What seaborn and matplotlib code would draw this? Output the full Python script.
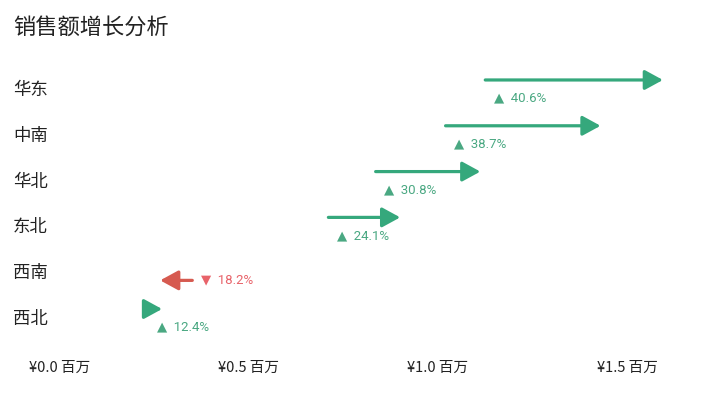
import matplotlib.pyplot as plt
import seaborn as sns

# --- Data (values in millions of yuan) ---
regions = ['华东', '中南', '华北', '东北', '西南', '西北']
sales_before = [1.125, 1.02, 0.835, 0.71, 0.35, 0.235]
sales_after = [1.595, 1.43, 1.112, 0.9, 0.265, 0.27]
growth_pct = [40.6, 38.7, 30.8, 24.1, -18.2, 12.4]
x_ticks = [0.0, 0.5, 1.0, 1.5]
x_tick_labels = ['¥0.0 百万', '¥0.5 百万', '¥1.0 百万', '¥1.5 百万']

up_color = '#35a87c'
up_text = '#4aa882'
down_color = '#d65a50'
down_text = '#e8636a'

sns.set_theme(style='white')
plt.rcParams['font.family'] = ['Noto Sans CJK SC', 'DejaVu Sans']

fig = plt.figure(figsize=(7.05, 3.95), dpi=100)
ax = fig.add_axes([40 / 705, 45 / 395, 650 / 705, 290 / 395])

for i, (r, a, b, g) in enumerate(zip(regions, sales_before, sales_after, growth_pct)):
    up = g >= 0
    col = up_color if up else down_color
    arrow_y = i - 0.175 if up else i + 0.2
    label_y = i + 0.22 if up else i + 0.2
    ax.annotate('', xy=(b, arrow_y), xytext=(a, arrow_y),
                arrowprops=dict(arrowstyle='-|>,head_length=0.55,head_width=0.3',
                                lw=2.3, color=col, mutation_scale=20,
                                shrinkA=0, shrinkB=0))
    mark = '▲' if up else '▼'
    ax.annotate(f'{mark}  {abs(g):.1f}%', xy=(a, label_y), xytext=(6, 0),
                textcoords='offset points', ha='left', va='center',
                fontsize=9.5, color=up_text if up else down_text,
                family=['Liberation Sans Narrow', 'Roboto', 'DejaVu Sans'])

ax.set_xlim(-20 / 378, 630 / 378)
ax.set_ylim(5.72, -0.611)
ax.set_yticks(range(len(regions)))
ax.set_yticklabels(regions, fontsize=12.5, color='#222222', ha='left')
ax.set_xticks(x_ticks)
ax.set_xticklabels(x_tick_labels, fontsize=10.5, color='#222222')
ax.tick_params(axis='y', length=0, pad=19.4)
ax.tick_params(axis='x', length=0, pad=8)
sns.despine(ax=ax, left=True, bottom=True)
ax.grid(False)

fig.text(13 / 705, 1 - 27 / 395, '销售额增长分析', fontsize=16, color='#222222',
         ha='left', va='center')

fig.savefig('out.png', dpi=100)
